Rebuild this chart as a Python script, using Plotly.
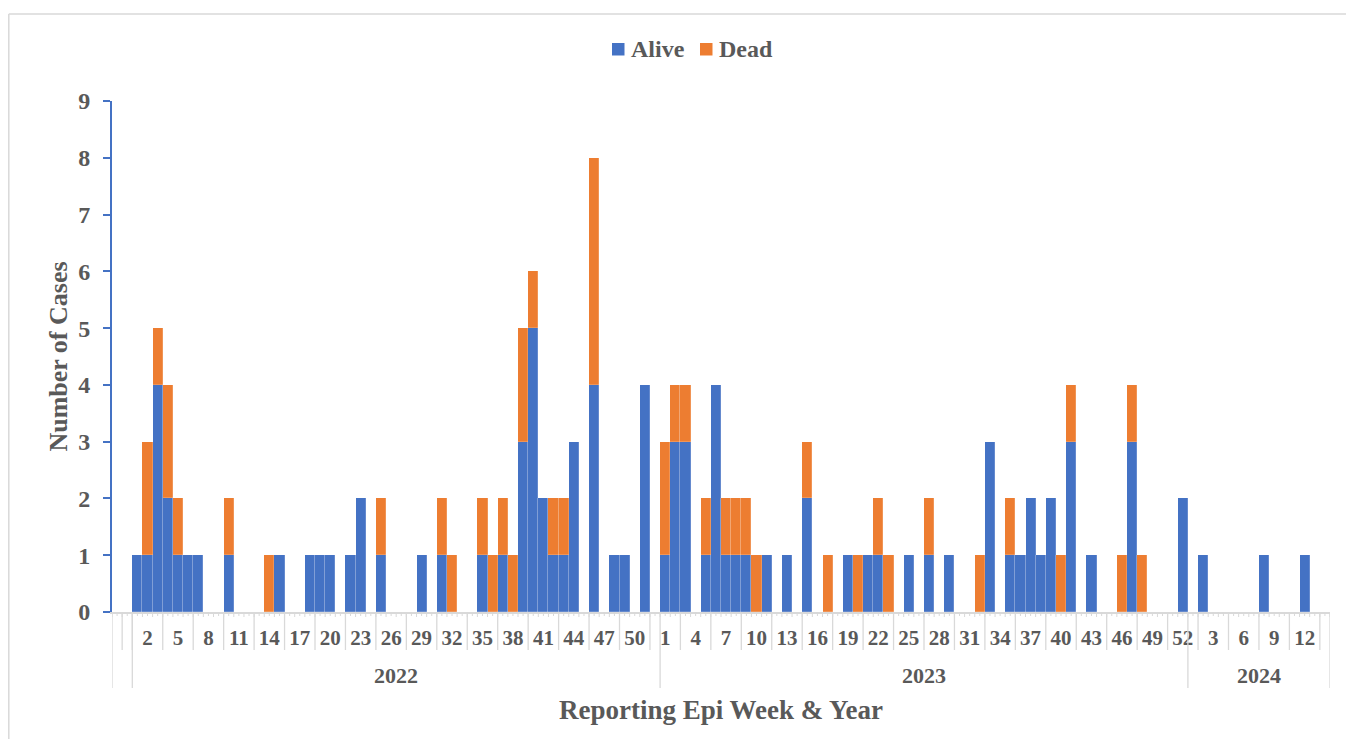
import plotly.graph_objects as go

# ---------------- data ----------------
years = ["2022", "2023", "2024"]
weeks_2022 = list(range(1, 53))
weeks_2023 = list(range(1, 53))
weeks_2024 = list(range(1, 15))

alive_2022 = [1, 1, 4, 2, 1, 1, 1, 0, 0, 1,
              0, 0, 0, 0, 1, 0, 0, 1, 1, 1,
              0, 1, 2, 0, 1, 0, 0, 0, 1, 0,
              1, 0, 0, 0, 1, 0, 1, 0, 3, 5,
              2, 1, 1, 3, 0, 4, 0, 1, 1, 0,
              4, 0]
dead_2022 = [0, 2, 1, 2, 1, 0, 0, 0, 0, 1,
             0, 0, 0, 1, 0, 0, 0, 0, 0, 0,
             0, 0, 0, 0, 1, 0, 0, 0, 0, 0,
             1, 1, 0, 0, 1, 1, 1, 1, 2, 1,
             0, 1, 1, 0, 0, 4, 0, 0, 0, 0,
             0, 0]
alive_2023 = [1, 3, 3, 0, 1, 4, 1, 1, 1, 0,
              1, 0, 1, 0, 2, 0, 0, 0, 1, 0,
              1, 1, 0, 0, 1, 0, 1, 0, 1, 0,
              0, 0, 3, 0, 1, 1, 2, 1, 2, 0,
              3, 0, 1, 0, 0, 0, 3, 0, 0, 0,
              0, 2]
dead_2023 = [2, 1, 1, 0, 1, 0, 1, 1, 1, 1,
             0, 0, 0, 0, 1, 0, 1, 0, 0, 1,
             0, 1, 1, 0, 0, 0, 1, 0, 0, 0,
             0, 1, 0, 0, 1, 0, 0, 0, 0, 1,
             1, 0, 0, 0, 0, 1, 1, 1, 0, 0,
             0, 0]
alive_2024 = [0, 1, 0, 0, 0, 0, 0, 1, 0, 0, 0, 1, 0, 0]
dead_2024 = [0, 0, 0, 0, 0, 0, 0, 0, 0, 0, 0, 0, 0, 0]

series_names = ["Alive", "Dead"]

# ---------------- build categorical index ----------------
LEAD_BLANK = 2  # empty categories before the first year group
groups = [(years[0], weeks_2022, alive_2022, dead_2022),
          (years[1], weeks_2023, alive_2023, dead_2023),
          (years[2], weeks_2024, alive_2024, dead_2024)]

xs, wk_labels, alive, dead = [], [], [], []
group_bounds = []
idx = LEAD_BLANK
for yr, wks, a, d in groups:
    start = idx
    for w, av, dv in zip(wks, a, d):
        xs.append(idx)
        wk_labels.append(str(w))
        alive.append(av if av else None)
        dead.append(dv if dv else None)
        idx += 1
    group_bounds.append((yr, start, idx))
N = idx  # total categories

BLUE = "#4472C4"
ORANGE = "#ED7D31"
TXT = "#595959"
GREY = "#D9D9D9"
FONT = "Liberation Serif"

# page offset (browser body margin) - keep figure inside the window
OFF = 8
FIG_W, FIG_H = 1354 - 2 * OFF, 747 - 2 * OFF
# target plot area in window px
PX0, PX1, PY0, PY1 = 112, 1330, 101, 612
PLOT_W = PX1 - PX0
PLOT_H = PY1 - PY0


def pxp(px):  # window px -> paper x
    return (px - PX0) / PLOT_W


def pyp(pyy):  # window px -> paper y
    return (PY1 - pyy) / PLOT_H


def py(px_below):  # px below the x axis -> paper y
    return -px_below / PLOT_H


fig = go.Figure()
fig.add_trace(go.Bar(x=xs, y=alive, name=series_names[0], marker_color=BLUE,
                     showlegend=False,
                     marker_line=dict(color="rgba(255,255,255,0.35)", width=0.5)))
fig.add_trace(go.Bar(x=xs, y=dead, name=series_names[1], marker_color=ORANGE,
                     showlegend=False,
                     marker_line=dict(color="rgba(255,255,255,0.35)", width=0.5)))

# tick labels every third category
tickvals, ticktext = [], []
for x, lab in zip(xs, wk_labels):
    if x % 3 == 0:
        tickvals.append(x)
        ticktext.append(lab)

shapes = []
# small ticks at category boundaries and centers
for k in range(N + 1):
    b = k - 0.5
    shapes.append(dict(type="line", xref="x", yref="paper", x0=b, x1=b,
                       y0=0, y1=py(5), line=dict(color=GREY, width=1)))
for k in range(N):
    shapes.append(dict(type="line", xref="x", yref="paper", x0=k, x1=k,
                       y0=0, y1=py(4), line=dict(color=GREY, width=1)))
# separators in the week-label row
for k in range(1, N):
    if k % 3 == 2 or k == 1:
        b = k - 0.5
        shapes.append(dict(type="line", xref="x", yref="paper", x0=b, x1=b,
                           y0=0, y1=py(38), line=dict(color=GREY, width=1.3)))
# group dividers (including outer edges)
div = sorted({-0.5, N - 0.5} | {s - 0.5 for _, s, _ in group_bounds})
for b in div:
    shapes.append(dict(type="line", xref="x", yref="paper", x0=b, x1=b,
                       y0=0, y1=py(76), line=dict(color=GREY, width=1.3)))
# outer chart border: top and left edges
shapes.append(dict(type="line", xref="paper", yref="paper",
                   x0=pxp(OFF + 0.8), x1=pxp(OFF + FIG_W), y0=pyp(14), y1=pyp(14),
                   line=dict(color=GREY, width=1.5), layer="below"))
shapes.append(dict(type="line", xref="paper", yref="paper",
                   x0=pxp(OFF + 0.8), x1=pxp(OFF + 0.8), y0=pyp(14), y1=pyp(OFF + FIG_H),
                   line=dict(color=GREY, width=1.5), layer="below"))

annotations = []
for yr, s, e in group_bounds:
    annotations.append(dict(x=(s + e - 1) / 2, y=py(63), xref="x", yref="paper",
                            text=yr, showarrow=False, yanchor="middle",
                            font=dict(family=FONT, size=22, color=TXT, weight="bold")))
annotations.append(dict(x=pxp(721), y=py(98),
                        xref="paper", yref="paper", text="Reporting Epi Week & Year",
                        showarrow=False, yanchor="middle",
                        font=dict(family=FONT, size=27, color=TXT, weight="bold")))

# custom legend (swatch + label)
legend_items = [(series_names[0], BLUE, 612), (series_names[1], ORANGE, 700)]
for name, col, x_left in legend_items:
    shapes.append(dict(type="rect", xref="paper", yref="paper",
                       x0=pxp(x_left), x1=pxp(x_left + 12.5),
                       y0=pyp(55.5), y1=pyp(43), line=dict(width=0), fillcolor=col))
    annotations.append(dict(x=pxp(x_left + 16.5), y=pyp(49.5), xref="paper", yref="paper",
                            text=name, showarrow=False, xanchor="left", yanchor="middle",
                            font=dict(family=FONT, size=24, color=TXT, weight="bold")))

fig.update_layout(
    width=FIG_W, height=FIG_H, autosize=False,
    margin=dict(l=PX0 - OFF, r=FIG_W + OFF - PX1, t=PY0 - OFF, b=FIG_H + OFF - PY1),
    barmode="stack", bargap=0,
    plot_bgcolor="white", paper_bgcolor="white",
    showlegend=False,
    shapes=shapes, annotations=annotations,
)
fig.update_xaxes(range=[-0.5, N - 0.5], tickmode="array", tickvals=tickvals,
                 ticktext=ticktext, ticks="", showgrid=False, zeroline=False,
                 showline=True, linecolor=GREY, linewidth=1.5,
                 ticklabelstandoff=6,
                 tickfont=dict(family=FONT, size=21, color=TXT, weight="bold"))
fig.update_yaxes(range=[0, 9], dtick=1, tick0=0, ticks="outside", ticklen=7,
                 tickcolor=BLUE, tickwidth=1.5, showgrid=False, zeroline=False,
                 showline=True, linecolor=BLUE, linewidth=1.8,
                 ticklabelstandoff=8,
                 tickfont=dict(family=FONT, size=24, color=TXT, weight="bold"),
                 title=dict(text="Number of Cases", standoff=3,
                            font=dict(family=FONT, size=26, color=TXT, weight="bold")))

fig.write_html("out.html")
